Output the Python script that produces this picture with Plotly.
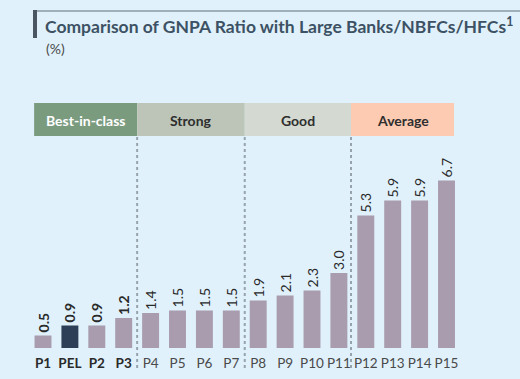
import plotly.graph_objects as go

categories = ["P1", "PEL", "P2", "P3", "P4", "P5", "P6", "P7", "P8", "P9", "P10", "P11", "P12", "P13", "P14", "P15"]
values = [0.5, 0.9, 0.9, 1.2, 1.4, 1.5, 1.5, 1.5, 1.9, 2.1, 2.3, 3.0, 5.3, 5.9, 5.9, 6.7]
highlight = "PEL"
bold_cats = ["P1", "PEL", "P2", "P3"]
groups = ["Best-in-class", "Strong", "Good", "Average"]
group_bounds = [-0.33, 3.5, 7.5, 11.45, 15.28]
group_colors = ["#7B9B7F", "#BCC5B8", "#D4D9D1", "#FDCBB2"]
group_text_colors = ["#FFFFFF", "#2E2E2E", "#2E2E2E", "#2E2E2E"]

W, H = 520, 379
FONT = "Lato"
BG = "#E0F1FB"

xs = list(range(len(categories)))
bar_colors = ["#2C3F56" if c == highlight else "#A89CAE" for c in categories]
texts = [f"<b>{v:.1f}</b>" if c in bold_cats else f"{v:.1f}" for c, v in zip(categories, values)]
ticktext = [f"<b><span style='color:#2A2A2A'>{c}</span></b>" if c in bold_cats
            else f"<span style='color:#4A4A4A'>{c}</span>" for c in categories]

fig = go.Figure()
fig.add_trace(go.Bar(
    x=xs, y=values, marker=dict(color=bar_colors, line=dict(width=0)),
    text=texts, textposition="outside", textangle=-90, constraintext="none",
    textfont=dict(family=FONT, size=14, color="#2A2A2A"), cliponaxis=False,
    hoverinfo="skip",
))

y_base_px = 348
y_top_px = 136
x0_px, x15_px = 43, 446.5
step = (x15_px - x0_px) / 15
xd0 = (x0_px - 0.5 * step) / W
xd1 = (x15_px + 0.5 * step) / W

px_per_unit = 25.0
ymax = (y_base_px - y_top_px) / px_per_unit

shapes = []
annotations = []
for i, g in enumerate(groups):
    shapes.append(dict(type="rect", xref="x", yref="paper",
                       x0=group_bounds[i], x1=group_bounds[i + 1],
                       y0=1 - 136 / H, y1=1 - 103 / H,
                       fillcolor=group_colors[i], line=dict(width=0), layer="below"))
    annotations.append(dict(x=(group_bounds[i] + group_bounds[i + 1]) / 2, y=1 - 120 / H,
                            xref="x", yref="paper", text=f"<b>{g}</b>", showarrow=False,
                            font=dict(family=FONT, size=14, color=group_text_colors[i]),
                            xanchor="center", yanchor="middle"))
for b in group_bounds[1:-1]:
    shapes.append(dict(type="line", xref="x", yref="paper", x0=b, x1=b,
                       y0=1 - 368 / H, y1=1 - 136 / H,
                       line=dict(color="#97A3AC", width=2, dash="dot")))
shapes.append(dict(type="line", xref="paper", yref="paper", x0=35 / W, x1=1,
                   y0=1 - 11 / H, y1=1 - 11 / H, line=dict(color="#8C99A4", width=1.5)))
shapes.append(dict(type="rect", xref="paper", yref="paper", x0=33 / W, x1=37 / W,
                   y0=1 - 38 / H, y1=1 - 10 / H, fillcolor="#4A5661", line=dict(width=0)))

annotations.append(dict(x=43 / W, y=1 - 26 / H, xref="paper", yref="paper",
                        text="<b>Comparison of GNPA Ratio with Large Banks/NBFCs/HFCs<sup>1</sup></b>",
                        showarrow=False, xanchor="left", yanchor="middle",
                        font=dict(family=FONT, size=17.5, color="#3D5164")))
annotations.append(dict(x=44 / W, y=1 - 49 / H, xref="paper", yref="paper",
                        text="(%)", showarrow=False, xanchor="left", yanchor="middle",
                        font=dict(family=FONT, size=14, color="#4A4A4A")))

fig.update_layout(
    width=W, height=H, autosize=False,
    margin=dict(l=0, r=0, t=0, b=0),
    paper_bgcolor=BG, plot_bgcolor=BG,
    bargap=0.37, showlegend=False,
    shapes=shapes, annotations=annotations,
    xaxis=dict(domain=[xd0, xd1], range=[-0.5, 15.5], tickmode="array", tickvals=xs,
               ticktext=ticktext, showgrid=False, zeroline=False, showline=False,
               ticks="", tickfont=dict(family=FONT, size=13.5), ticklabelstandoff=5,
               fixedrange=True),
    yaxis=dict(domain=[1 - y_base_px / H, 1 - y_top_px / H], range=[0, ymax],
               visible=False, fixedrange=True),
)

fig.write_html("out.html", config={"displayModeBar": False},
               post_script="document.body.style.margin='0';document.body.style.overflow='hidden';")
